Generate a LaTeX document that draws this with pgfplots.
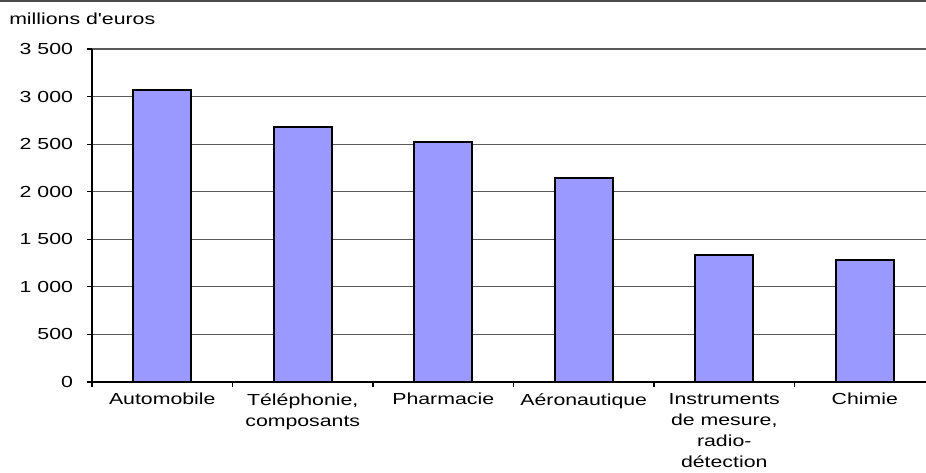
\documentclass[border=0pt]{standalone}
\usepackage{fontspec}
\setmainfont{Liberation Sans}[FakeStretch=1.33, Ligatures=TeXOff]
\usepackage{pgfplots}
\pgfplotsset{compat=1.18}
\definecolor{barblue}{HTML}{9999FF}
\begin{document}
\begin{tikzpicture}
\begin{axis}[
  at={(0pt,0pt)}, anchor=south west,
  scale only axis, width=625.5pt, height=249.75pt,
  xmin=-0.5, xmax=5.436, ymin=0, ymax=3500,
  axis x line*=bottom, axis y line*=left,
  axis line style={black, line width=1.1pt},
  ymajorgrids, grid style={black!65, line width=0.8pt},
  ytick={0,500,...,3500},
  yticklabels={0,500,1 000,1 500,2 000,2 500,3 000,3 500},
  xtick={-0.5,0.5,1.5,2.5,3.5,4.5},
  xticklabels={},
  extra x ticks={0,1,2,3,4,5},
  extra x tick labels={Automobile,{T\'el\'ephonie,\\composants},Pharmacie,A\'eronautique,{Instruments\\de mesure,\\radio-\\d\'etection},Chimie},
  extra x tick style={major tick length=0pt},
  tick align=outside, major tick length=3.75pt,
  tick style={black, line width=0.8pt},
  ticklabel style={font=\fontsize{12}{15.75}\selectfont},
  xticklabel style={align=center, anchor=north},
  xticklabel shift=5pt,
  yticklabel shift=7pt,
  ybar, bar width=43.5pt,
]
\addplot[fill=barblue, draw=black, line width=1.5pt] coordinates {(0,3070) (1,2680) (2,2520) (3,2140) (4,1335) (5,1285)};
\end{axis}
\draw[black!70, line width=1.5pt] (-69pt,285.75pt) -- (625.5pt,285.75pt);
\node[anchor=base west, inner sep=0pt, font=\fontsize{12}{14}\selectfont] at (-62.25pt,267.75pt) {millions d'euros};
\pgfresetboundingbox
\path[use as bounding box] (-69pt,-67.5pt) rectangle (625.5pt,286.5pt);
\end{tikzpicture}
\end{document}
